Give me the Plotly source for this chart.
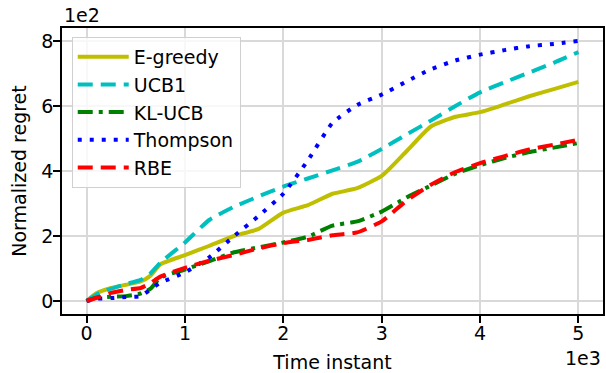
import plotly.graph_objects as go

t = [0, 100, 250, 400, 550, 650, 750, 1000, 1250, 1500, 1750, 2000, 2250, 2500,
     2750, 3000, 3250, 3500, 3750, 4000, 4250, 4500, 4750, 5000]

egreedy = [0, 24, 40, 50, 60, 78, 113, 141, 170, 200, 222, 272, 295, 330,
           347, 385, 460, 537, 567, 581, 605, 630, 652, 674]
ucb1 = [0, 20, 38, 52, 65, 85, 118, 180, 250, 290, 322, 352, 377, 402,
        428, 468, 512, 555, 600, 642, 673, 703, 733, 766]
klucb = [0, 10, 13, 15, 23, 38, 72, 97, 123, 150, 165, 180, 198, 232,
         245, 275, 318, 355, 392, 418, 440, 458, 472, 486]
thompson = [0, 7, 9, 12, 15, 36, 56, 88, 135, 200, 262, 330, 433, 548,
            603, 635, 675, 713, 740, 758, 772, 784, 791, 800]
rbe = [0, 10, 25, 34, 40, 55, 75, 102, 124, 142, 162, 178, 188, 202,
       211, 245, 308, 358, 397, 424, 446, 466, 481, 496]

names = ["E-greedy", "UCB1", "KL-UCB", "Thompson", "RBE"]
series = [egreedy, ucb1, klucb, thompson, rbe]
colors = ["#bfbf00", "#00bfbf", "#008000", "#0000ff", "#ff0000"]
dashes = ["solid", "15px,8px", "15px,6px,4px,6px", "4px,8px", "15px,8px"]

xticks = [0, 1000, 2000, 3000, 4000, 5000]
xticklabels = ["0", "1", "2", "3", "4", "5"]
yticks = [0, 200, 400, 600, 800]
yticklabels = ["0", "2", "4", "6", "8"]

FONT = "DejaVu Sans"

fig = go.Figure()
for n, s, c, d in zip(names, series, colors, dashes):
    fig.add_trace(go.Scatter(x=t, y=s, name=n, mode="lines",
                             line=dict(color=c, width=4, dash=d, shape="spline", smoothing=0.5)))

axis_common = dict(showline=True, linecolor="black", linewidth=1.6, mirror=True,
                   showgrid=True, gridcolor="#d9d9d9", gridwidth=1.6,
                   ticks="outside", ticklen=7, tickwidth=1.6, tickcolor="black",
                   zeroline=False, tickfont=dict(family=FONT, size=19, color="black"))

fig.update_xaxes(range=[-250, 5250], tickvals=xticks, ticktext=xticklabels,
                 ticklabelstandoff=-6,
                 title=dict(text="Time instant", font=dict(family=FONT, size=19, color="black"), standoff=13),
                 **axis_common)
fig.update_yaxes(range=[-40, 840], tickvals=yticks, ticktext=yticklabels,
                 ticklabelstandoff=-4,
                 title=dict(text="Normalized regret", font=dict(family=FONT, size=19, color="black"), standoff=10),
                 **axis_common)

fig.update_layout(
    width=606, height=373,
    margin=dict(l=62, r=1, t=28, b=59),
    paper_bgcolor="white", plot_bgcolor="white",
    font=dict(family=FONT, size=19, color="black"),
    legend=dict(x=0.018, y=0.969, xanchor="left", yanchor="top", itemwidth=51,
                bgcolor="rgba(255,255,255,0.8)", bordercolor="#d0d0d0", borderwidth=1,
                font=dict(family=FONT, size=19, color="black")),
    annotations=[
        dict(text="1e2", x=0, y=1.045, xref="paper", yref="paper", xanchor="left",
             yanchor="middle", showarrow=False, font=dict(family=FONT, size=19, color="black")),
        dict(text="1e3", x=1, y=-0.154, xref="paper", yref="paper", xanchor="right",
             yanchor="middle", showarrow=False, font=dict(family=FONT, size=19, color="black")),
    ],
)

fig.write_html("out.html")
